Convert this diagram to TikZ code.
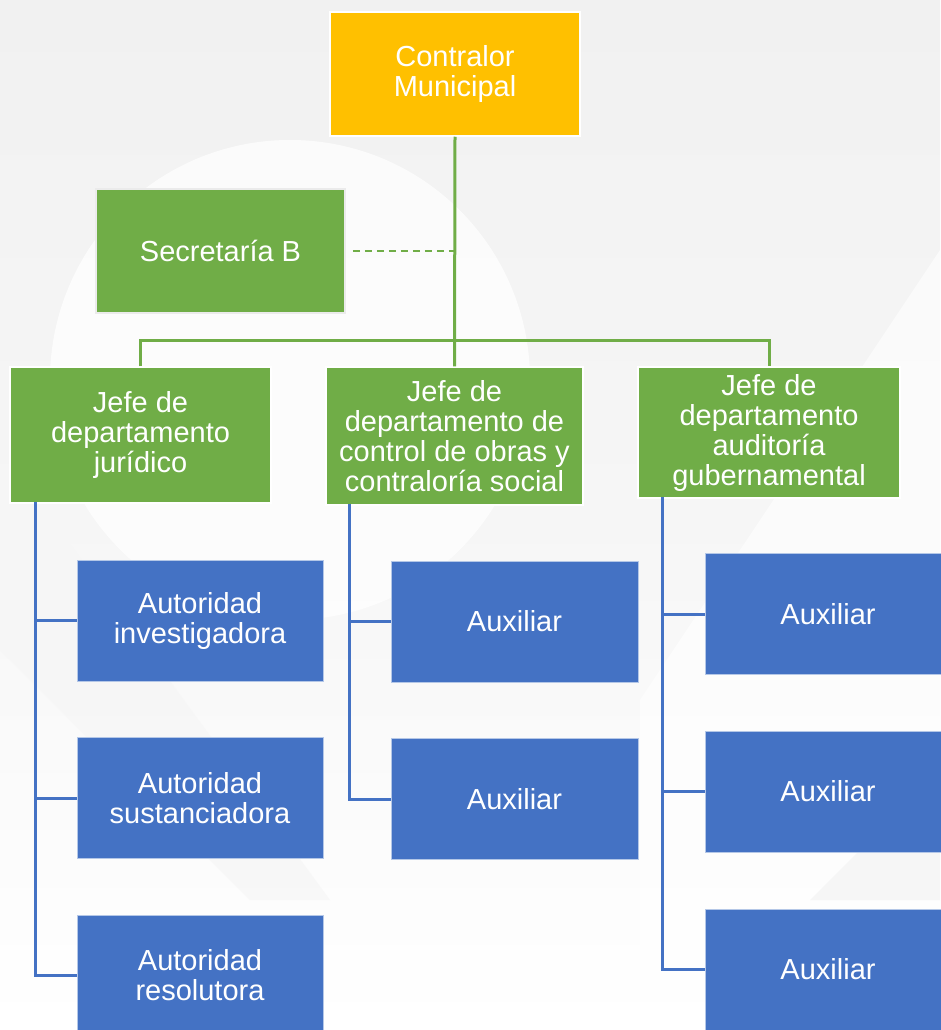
\documentclass[tikz,border=0pt]{standalone}
\usepackage{fontspec}
\setmainfont{Liberation Sans}
\definecolor{cyellow}{HTML}{FFC000}
\definecolor{cgreen}{HTML}{70AD47}
\definecolor{cblue}{HTML}{4472C4}
\definecolor{bggray}{HTML}{F1F1F1}
\definecolor{bglight}{HTML}{F6F6F6}
\tikzset{
  box/.style={rectangle, inner sep=0pt, align=center, text=white,
    font=\fontsize{29}{30}\selectfont, draw=white, line width=1.5pt},
  topbox/.style={box, fill=cyellow},
  greenbox/.style={box, fill=cgreen},
  bluebox/.style={box, fill=cblue, draw=white!60!cblue, line width=0.8pt,
    minimum width=246pt, minimum height=121pt},
  gline/.style={draw=cgreen, line width=3pt},
  bline/.style={draw=cblue, line width=3pt},
}
\begin{document}
\begin{tikzpicture}[x=1pt, y=-1pt]
\useasboundingbox (0,0) rectangle (940,1030);
\begin{scope}
\clip (0,0) rectangle (940,1030);
% background
\shade[top color=bggray, bottom color=white, middle color=bglight] (0,0) rectangle (940,1030);
\fill[white, opacity=0.6] (940,250) -- (640,700) -- (640,1030) -- (940,1030) -- cycle;
\fill[bglight, opacity=0.7] (0,530) -- (60,530) -- (330,900) -- (250,900) -- (0,650) -- cycle;
\fill[bglight] (940,850) -- (860,850) -- (810,900) -- (940,900) -- cycle;
\fill[white, opacity=0.75] (290,380) circle (240);
\end{scope}

% nodes
\node[topbox, minimum width=250pt, minimum height=124pt] (top) at (455,74) {Contralor\\Municipal};
\node[greenbox, draw=black!8, minimum width=249pt, minimum height=124pt] (sec) at (220.5,251) {Secretaría B};
\node[greenbox, minimum width=261pt, minimum height=136pt] (j1) at (140.5,435) {Jefe de\\departamento\\jurídico};
\node[greenbox, minimum width=257pt, minimum height=138pt] (j2) at (454.5,436) {Jefe de\\departamento de\\control de obras y\\contraloría social};
\node[greenbox, minimum width=262pt, minimum height=131pt] (j3) at (769,432.5) {Jefe de\\departamento\\auditoría\\gubernamental};

\node[bluebox] (a1) at (200,620.5) {Autoridad\\investigadora};
\node[bluebox] (a2) at (200,798) {Autoridad\\sustanciadora};
\node[bluebox] (a3) at (200,975.5) {Autoridad\\resolutora};
\node[bluebox, minimum width=247pt] (b1) at (514.5,621.5) {Auxiliar};
\node[bluebox, minimum width=247pt] (b2) at (514.5,799) {Auxiliar};
\node[bluebox] (c1) at (828,614) {Auxiliar};
\node[bluebox] (c2) at (828,791.5) {Auxiliar};
\node[bluebox] (c3) at (828,969.5) {Auxiliar};

% green connectors
\draw[gline] (top.south) -- (j2.north);
\draw[gline] (j1.north) -- ++(0,-26) -| (j3.north);
\draw[gline, line width=2.4pt, dash pattern=on 7pt off 5pt] ([xshift=7pt]sec.east) -- (sec.east -| top.south);

% blue connectors
\draw[bline] ([xshift=26pt,yshift=2pt]j1.south west) |- (a3.west);
\draw[bline] ([xshift=26pt]a1.west -| j1.south west) -- (a1.west);
\draw[bline] ([xshift=26pt]a2.west -| j1.south west) -- (a2.west);
\draw[bline] ([xshift=24pt,yshift=2pt]j2.south west) |- (b2.west);
\draw[bline] ([xshift=24pt]b1.west -| j2.south west) -- (b1.west);
\draw[bline] ([xshift=25pt,yshift=2pt]j3.south west) |- (c3.west);
\draw[bline] ([xshift=25pt]c1.west -| j3.south west) -- (c1.west);
\draw[bline] ([xshift=25pt]c2.west -| j3.south west) -- (c2.west);
\end{tikzpicture}
\end{document}
